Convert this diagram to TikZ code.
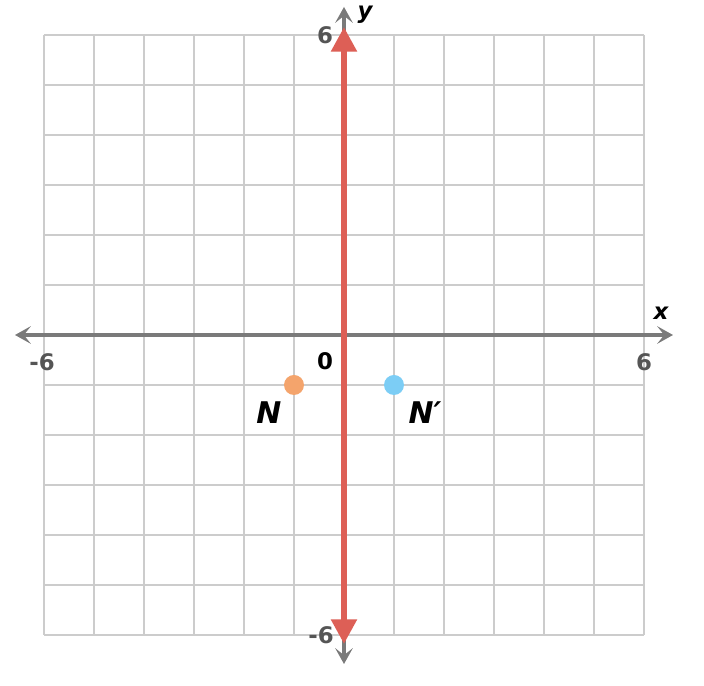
\documentclass[tikz,border=0pt]{standalone}
\usepackage{fontspec}
\setmainfont{DejaVu Sans}
\usetikzlibrary{arrows.meta}
\definecolor{gridc}{HTML}{CCCCCC}
\definecolor{axisc}{HTML}{7A7A7A}
\definecolor{redl}{HTML}{DD5F56}
\definecolor{orangep}{HTML}{F4A46C}
\definecolor{bluep}{HTML}{7CCDF5}
\definecolor{numc}{HTML}{555555}
\tikzset{
  gridline/.style={gridc, line width=1.2pt},
  axisline/.style={axisc, line width=2.2pt, {Stealth[length=9pt,width=10pt,inset=4pt]}-{Stealth[length=9pt,width=10pt,inset=4pt]}},
  numlabel/.style={font=\bfseries\fontsize{13}{15}\selectfont, text=numc, inner sep=1pt},
  varlabel/.style={font=\bfseries\itshape\fontsize{13}{15}\selectfont, text=black, inner sep=1pt},
  ptlabel/.style={font=\bfseries\itshape\fontsize{17}{19}\selectfont, text=black, inner sep=1pt},
  pt/.style={circle, inner sep=0pt, minimum size=0.4cm}
}
\begin{document}
\begin{tikzpicture}
\useasboundingbox[fill=white] (-6.88,-7.02) rectangle (7.2,6.7);
\foreach \i in {-6,...,6} {
  \draw[gridline] (\i,-6) -- (\i,6);
  \draw[gridline] (-6,\i) -- (6,\i);
}
\coordinate (xl) at (-6.58,0);
\coordinate (xr) at (6.58,0);
\coordinate (yb) at (0,-6.58);
\coordinate (yt) at (0,6.56);
\draw[axisline] (xl) -- (xr);
\draw[axisline] (yb) -- (yt);
\coordinate (rb) at (0,-6.18);
\coordinate (rt) at (0,6.16);
\draw[redl, line width=3.6pt, {Triangle[length=14pt,width=14pt]}-{Triangle[length=14pt,width=14pt]}] (rb) -- (rt);
\node[numlabel] (y6) at (-0.38,6) {6};
\node[numlabel] (ym6) at (-0.46,-6) {-6};
\node[numlabel] (xm6) at (-6.04,-0.54) {-6};
\node[numlabel] (x6) at (6,-0.54) {6};
\node[numlabel, text=black] (o) at (-0.38,-0.52) {0};
\node[varlabel] (xlab) at (6.34,0.44) {x};
\node[varlabel] (ylab) at (0.42,6.4) {y};
\node[pt, fill=orangep] (N) at (-1,-1) {};
\node[pt, fill=bluep] (Np) at (1,-1) {};
\node[ptlabel] (Nl) at (-1.5,-1.56) {N};
\node[ptlabel] (Npl) at (1.62,-1.56) {N′};
\end{tikzpicture}
\end{document}
